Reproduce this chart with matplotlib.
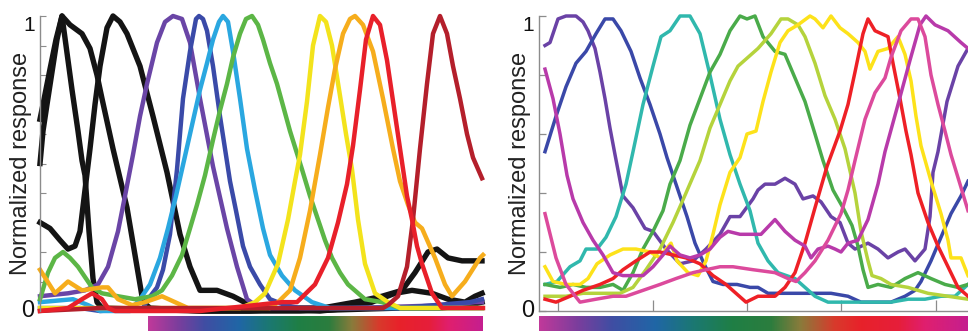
import numpy as np
import matplotlib
matplotlib.use("Agg")
from matplotlib import pyplot as plt
from matplotlib.colors import LinearSegmentedColormap

plt.rcParams['font.family'] = ['Liberation Sans', 'DejaVu Sans']

# ---------------- left panel: tuning curves (stimulus position a.u., normalized response)
k1_x = [0, 3, 10, 16, 22, 30, 42, 50, 57, 62, 73, 87, 97, 103, 110, 160, 210, 260, 282, 315, 342, 362, 375, 388, 397, 408, 422, 442]
k1_y = [0.65, 0.70, 0.82, 0.92, 1.00, 0.97, 0.94, 0.89, 0.80, 0.72, 0.55, 0.35, 0.15, 0.03, 0.01, 0.00, 0.00, 0.01, 0.01, 0.03, 0.05, 0.07, 0.13, 0.20, 0.21, 0.18, 0.17, 0.17]

k2_x = [0, 3, 7, 12, 17, 22, 26, 32, 38, 42, 45, 49, 53, 57, 62, 160, 260, 360, 400, 430, 442]
k2_y = [0.50, 0.61, 0.70, 0.81, 0.92, 1.00, 0.90, 0.75, 0.61, 0.51, 0.46, 0.27, 0.11, 0.03, 0.01, 0.00, 0.00, 0.01, 0.01, 0.02, 0.03]

k3_x = [0, 10, 20, 28, 35, 40, 45, 50, 55, 60, 67, 73, 80, 87, 100, 113, 127, 140, 150, 160, 177, 193, 210, 225, 280, 310, 332, 355, 372, 392, 408, 425, 435, 442]
k3_y = [0.30, 0.28, 0.24, 0.21, 0.22, 0.27, 0.41, 0.55, 0.70, 0.83, 0.96, 1.00, 0.98, 0.94, 0.83, 0.66, 0.47, 0.26, 0.15, 0.07, 0.07, 0.05, 0.02, 0.01, 0.00, 0.01, 0.03, 0.06, 0.07, 0.06, 0.04, 0.03, 0.05, 0.06]

pu_x = [0, 28, 45, 58, 68, 78, 85, 93, 100, 107, 117, 125, 133, 142, 150, 160, 173, 187, 197, 207, 215, 230, 310, 410, 435, 442]
pu_y = [0.05, 0.06, 0.07, 0.09, 0.15, 0.27, 0.39, 0.53, 0.66, 0.77, 0.91, 0.98, 1.00, 0.99, 0.91, 0.72, 0.49, 0.28, 0.15, 0.04, 0.02, 0.01, 0.01, 0.02, 0.03, 0.03]

bl_x = [0, 40, 60, 103, 108, 117, 123, 130, 137, 143, 150, 156, 159, 163, 167, 173, 180, 185, 190, 196, 203, 210, 220, 230, 245, 260, 360, 430, 442]
bl_y = [0.01, 0.01, 0.00, 0.01, 0.04, 0.08, 0.14, 0.26, 0.48, 0.72, 0.88, 0.99, 1.00, 0.99, 0.95, 0.83, 0.66, 0.55, 0.44, 0.34, 0.22, 0.15, 0.09, 0.04, 0.02, 0.01, 0.01, 0.03, 0.04]

lb_x = [0, 33, 48, 60, 90, 100, 110, 120, 128, 136, 144, 152, 160, 167, 173, 179, 183, 188, 193, 200, 207, 215, 223, 230, 242, 255, 272, 290, 360, 442]
lb_y = [0.03, 0.04, 0.02, 0.00, 0.00, 0.04, 0.09, 0.18, 0.28, 0.39, 0.51, 0.63, 0.75, 0.84, 0.92, 0.98, 1.00, 0.98, 0.88, 0.72, 0.55, 0.41, 0.28, 0.19, 0.12, 0.07, 0.03, 0.01, 0.01, 0.01]

gr_x = [0, 8, 15, 23, 30, 38, 52, 62, 78, 95, 112, 122, 132, 142, 150, 157, 165, 173, 180, 187, 193, 200, 206, 212, 218, 223, 230, 237, 250, 262, 270, 278, 285, 292, 300, 308, 325, 342, 360, 390, 442]
gr_y = [0.04, 0.13, 0.18, 0.20, 0.18, 0.15, 0.08, 0.06, 0.05, 0.04, 0.05, 0.07, 0.12, 0.19, 0.28, 0.36, 0.46, 0.58, 0.68, 0.77, 0.86, 0.94, 0.99, 1.00, 0.97, 0.92, 0.84, 0.77, 0.61, 0.48, 0.39, 0.31, 0.24, 0.18, 0.13, 0.09, 0.04, 0.03, 0.01, 0.01, 0.01]

ye_x = [0, 110, 200, 215, 225, 238, 248, 255, 260, 267, 273, 280, 286, 292, 300, 306, 312, 318, 325, 335, 348, 360, 442]
ye_y = [0.01, 0.01, 0.01, 0.03, 0.06, 0.16, 0.31, 0.44, 0.53, 0.71, 0.90, 1.00, 0.98, 0.90, 0.73, 0.60, 0.48, 0.31, 0.16, 0.06, 0.03, 0.01, 0.01]

or_x = [0, 15, 28, 42, 62, 68, 78, 92, 105, 122, 135, 148, 190, 230, 238, 250, 260, 270, 280, 288, 295, 303, 310, 315, 323, 333, 343, 353, 360, 368, 375, 382, 395, 405, 412, 425, 440, 443]
or_y = [0.14, 0.06, 0.10, 0.07, 0.08, 0.08, 0.04, 0.02, 0.03, 0.05, 0.03, 0.01, 0.01, 0.01, 0.03, 0.07, 0.18, 0.34, 0.53, 0.69, 0.82, 0.94, 0.99, 1.00, 0.97, 0.88, 0.72, 0.55, 0.44, 0.36, 0.30, 0.28, 0.18, 0.09, 0.05, 0.10, 0.18, 0.19]

rd_x = [0, 28, 42, 52, 62, 68, 75, 160, 215, 242, 257, 275, 288, 298, 307, 313, 320, 326, 333, 340, 347, 357, 367, 372, 377, 382, 392, 402, 443]
rd_y = [0.00, 0.01, 0.04, 0.06, 0.04, 0.01, 0.00, 0.00, 0.02, 0.03, 0.03, 0.09, 0.18, 0.30, 0.43, 0.56, 0.75, 0.92, 1.00, 0.97, 0.85, 0.62, 0.39, 0.31, 0.22, 0.16, 0.06, 0.01, 0.01]

dr_x = [0, 60, 160, 260, 343, 348, 358, 367, 373, 380, 387, 393, 400, 407, 413, 420, 427, 433, 442]
dr_y = [0.00, 0.01, 0.01, 0.01, 0.01, 0.02, 0.05, 0.15, 0.31, 0.55, 0.77, 0.94, 1.00, 0.94, 0.83, 0.72, 0.60, 0.52, 0.45]

# ---------------- right panel
r_ticks = [19, 114, 208, 302, 397]

rpu_x = [6, 11, 19, 27, 37, 44, 49, 56, 61, 66, 71, 76, 84, 94, 106, 114, 127, 141, 154, 167, 181, 191, 201, 214, 219, 226, 236, 246, 256, 264, 274, 282, 292, 301, 309, 316, 329, 339, 349, 359, 366, 376, 386, 391, 394, 399, 408, 419, 429]
rpu_y = [0.90, 0.91, 0.99, 1.00, 1.00, 0.98, 0.95, 0.89, 0.81, 0.72, 0.62, 0.53, 0.39, 0.35, 0.28, 0.27, 0.21, 0.16, 0.17, 0.21, 0.26, 0.32, 0.32, 0.38, 0.41, 0.43, 0.43, 0.45, 0.43, 0.38, 0.39, 0.37, 0.32, 0.30, 0.23, 0.21, 0.23, 0.21, 0.18, 0.20, 0.21, 0.17, 0.21, 0.32, 0.47, 0.54, 0.71, 0.83, 0.89]

rbl_x = [6, 17, 27, 37, 47, 57, 66, 74, 82, 92, 101, 111, 121, 128, 138, 148, 156, 165, 174, 184, 198, 211, 219, 229, 242, 259, 276, 292, 309, 322, 336, 352, 366, 376, 382, 392, 402, 412, 422, 429]
rbl_y = [0.54, 0.66, 0.76, 0.84, 0.88, 0.94, 0.99, 0.99, 0.95, 0.88, 0.79, 0.70, 0.60, 0.52, 0.42, 0.32, 0.23, 0.16, 0.10, 0.09, 0.09, 0.08, 0.08, 0.06, 0.06, 0.06, 0.06, 0.06, 0.05, 0.03, 0.03, 0.03, 0.05, 0.07, 0.10, 0.17, 0.25, 0.33, 0.39, 0.44]

rte_x = [6, 18, 31, 41, 47, 58, 67, 77, 87, 94, 104, 114, 122, 131, 141, 151, 161, 171, 181, 191, 201, 211, 219, 229, 239, 256, 266, 276, 289, 302, 319, 336, 352, 369, 386, 402, 416, 429]
rte_y = [0.09, 0.10, 0.15, 0.17, 0.21, 0.21, 0.25, 0.32, 0.43, 0.54, 0.70, 0.83, 0.93, 0.95, 1.00, 1.00, 0.94, 0.80, 0.65, 0.53, 0.43, 0.34, 0.23, 0.17, 0.13, 0.11, 0.08, 0.05, 0.03, 0.03, 0.03, 0.03, 0.03, 0.04, 0.04, 0.05, 0.05, 0.09]

rgr_x = [6, 21, 34, 47, 61, 74, 84, 94, 104, 114, 124, 131, 141, 151, 161, 171, 181, 191, 201, 208, 216, 224, 236, 246, 256, 266, 276, 284, 294, 304, 313, 319, 324, 329, 339, 352, 366, 379, 392, 406, 419, 429]
rgr_y = [0.09, 0.08, 0.09, 0.08, 0.08, 0.09, 0.07, 0.13, 0.21, 0.27, 0.34, 0.43, 0.51, 0.63, 0.72, 0.81, 0.87, 0.95, 1.00, 0.99, 1.00, 0.93, 0.88, 0.87, 0.79, 0.71, 0.60, 0.51, 0.41, 0.35, 0.29, 0.22, 0.14, 0.08, 0.09, 0.08, 0.11, 0.13, 0.11, 0.09, 0.08, 0.09]

rli_x = [6, 27, 44, 61, 81, 94, 107, 121, 134, 147, 161, 171, 181, 191, 199, 209, 219, 232, 242, 249, 259, 266, 276, 286, 296, 306, 316, 322, 329, 333, 342, 352, 369, 389, 409, 429]
rli_y = [0.05, 0.05, 0.06, 0.06, 0.06, 0.08, 0.14, 0.21, 0.30, 0.40, 0.51, 0.62, 0.70, 0.78, 0.83, 0.86, 0.89, 0.94, 0.99, 0.99, 0.97, 0.93, 0.84, 0.73, 0.65, 0.55, 0.40, 0.27, 0.17, 0.12, 0.11, 0.09, 0.08, 0.06, 0.05, 0.04]

rye_x = [6, 14, 27, 41, 49, 58, 71, 84, 97, 111, 121, 127, 132, 138, 149, 159, 167, 174, 181, 191, 201, 208, 217, 224, 232, 241, 249, 259, 271, 276, 284, 292, 301, 309, 319, 326, 331, 339, 349, 359, 366, 372, 377, 382, 392, 402, 409, 412, 422, 429]
rye_y = [0.15, 0.10, 0.09, 0.09, 0.11, 0.16, 0.19, 0.21, 0.21, 0.20, 0.18, 0.21, 0.23, 0.17, 0.13, 0.12, 0.17, 0.26, 0.36, 0.47, 0.52, 0.60, 0.61, 0.71, 0.81, 0.91, 0.95, 0.97, 1.00, 0.99, 0.96, 1.00, 0.96, 0.94, 0.91, 0.88, 0.82, 0.88, 0.89, 0.93, 0.87, 0.78, 0.66, 0.56, 0.44, 0.33, 0.24, 0.18, 0.18, 0.12]

rrd_x = [6, 17, 31, 44, 61, 74, 84, 97, 111, 121, 134, 147, 161, 174, 187, 197, 207, 219, 236, 246, 256, 266, 276, 288, 301, 309, 316, 324, 329, 336, 349, 354, 361, 367, 372, 379, 389, 399, 409, 419, 429]
rrd_y = [0.04, 0.03, 0.05, 0.07, 0.09, 0.11, 0.14, 0.17, 0.20, 0.20, 0.19, 0.18, 0.16, 0.12, 0.09, 0.06, 0.03, 0.05, 0.05, 0.08, 0.13, 0.23, 0.35, 0.49, 0.61, 0.70, 0.81, 0.94, 0.99, 0.95, 0.93, 0.84, 0.72, 0.61, 0.53, 0.40, 0.30, 0.22, 0.15, 0.08, 0.05]

rma_x = [6, 14, 21, 28, 34, 44, 54, 64, 74, 84, 94, 104, 114, 124, 131, 141, 151, 161, 171, 181, 189, 201, 214, 222, 236, 246, 256, 266, 272, 279, 289, 296, 302, 309, 319, 329, 339, 346, 359, 371, 381, 387, 396, 409, 422, 429]
rma_y = [0.82, 0.72, 0.60, 0.46, 0.38, 0.30, 0.24, 0.19, 0.13, 0.12, 0.12, 0.12, 0.15, 0.19, 0.22, 0.19, 0.18, 0.19, 0.21, 0.25, 0.27, 0.26, 0.26, 0.26, 0.31, 0.27, 0.24, 0.22, 0.18, 0.21, 0.22, 0.21, 0.20, 0.23, 0.24, 0.31, 0.43, 0.54, 0.70, 0.85, 0.97, 1.00, 0.97, 0.95, 0.91, 0.89]

rmb_x = [6, 17, 27, 41, 57, 74, 87, 104, 121, 137, 154, 167, 181, 194, 214, 236, 249, 257, 266, 276, 289, 302, 309, 316, 326, 336, 346, 352, 362, 372, 379, 386, 392, 399, 406, 412, 421, 429]
rmb_y = [0.33, 0.18, 0.09, 0.03, 0.04, 0.05, 0.05, 0.07, 0.09, 0.11, 0.13, 0.14, 0.15, 0.15, 0.14, 0.13, 0.11, 0.10, 0.13, 0.17, 0.24, 0.33, 0.41, 0.51, 0.65, 0.74, 0.79, 0.86, 0.95, 0.99, 0.99, 0.93, 0.80, 0.70, 0.61, 0.53, 0.43, 0.34]

left_curves = [
    (k1_x, k1_y, '#141414', 3.9),
    (k2_x, k2_y, '#141414', 3.9),
    (k3_x, k3_y, '#141414', 3.9),
    (pu_x, pu_y, '#6a45a6', 3.2),
    (bl_x, bl_y, '#3a4aa8', 3.2),
    (lb_x, lb_y, '#2aa7e0', 3.2),
    (gr_x, gr_y, '#5cb646', 3.2),
    (ye_x, ye_y, '#f3e31c', 3.2),
    (or_x, or_y, '#f6ad1c', 3.2),
    (dr_x, dr_y, '#b41f2b', 3.2),
    (rd_x, rd_y, '#e8202a', 3.2),
]

right_curves = [
    (rpu_x, rpu_y, '#6a42a6'),
    (rbl_x, rbl_y, '#3a48a8'),
    (rte_x, rte_y, '#30b8ad'),
    (rgr_x, rgr_y, '#4aab4a'),
    (rli_x, rli_y, '#b5d33c'),
    (rye_x, rye_y, '#fde21a'),
    (rrd_x, rrd_y, '#ee2026'),
    (rma_x, rma_y, '#b83aaa'),
    (rmb_x, rmb_y, '#dc4a9c'),
]

bar_colors = ['#c0399a', '#7a3e9d', '#3f4ea3', '#2066a6', '#1b7872', '#1f7f45',
              '#2b7d3e', '#8a7b3b', '#d83a2c', '#e8222a', '#e61e3a', '#e01f6e', '#c51f8f']
bar_stops = [0.0, 0.09, 0.17, 0.27, 0.36, 0.45, 0.54, 0.61, 0.69, 0.75, 0.84, 0.90, 1.0]

W, H = 968, 331
fig = plt.figure(figsize=(W / 100, H / 100), dpi=100)

ax_bottom = 20 / H
ax_h = (311 - 16) / H
axL = fig.add_axes([40 / W, ax_bottom, (483 - 40) / W, ax_h])
axR = fig.add_axes([539 / W, ax_bottom, (968 - 539) / W, ax_h])

spine_c = '#8c8c8c'
for ax in (axL, axR):
    ax.set_ylim(0, 1)
    for s in ('top', 'right'):
        ax.spines[s].set_visible(False)
    ax.spines['left'].set_color(spine_c)
    ax.spines['left'].set_linewidth(1.0)
    ax.set_ylabel('Normalized response', fontsize=17, color='#222222', labelpad=2)
    ax.text(-0.012, 1.0, '1', transform=ax.transAxes, ha='right', va='top', fontsize=15, color='#111111')
    ax.text(-0.012, 0.0, '0', transform=ax.transAxes, ha='right', va='center', fontsize=17, color='#111111')

for x, y, c, lw in left_curves:
    axL.plot(x, y, color=c, lw=lw, clip_on=False, solid_joinstyle='round')
axL.set_xlim(0, 443)
axL.spines['bottom'].set_visible(False)
axL.set_xticks([])
axL.set_yticks(np.arange(0, 1.01, 0.1))
axL.set_yticklabels([])
axL.tick_params(axis='y', direction='in', length=4, width=0.8, color=spine_c)

for x, y, c in right_curves:
    axR.plot(x, y, color=c, lw=2.5, clip_on=False, solid_joinstyle='round')
axR.set_xlim(0, 429)
axR.spines['bottom'].set_color(spine_c)
axR.spines['bottom'].set_linewidth(1.0)
axR.set_xticks(r_ticks)
axR.set_xticklabels([])
axR.tick_params(axis='x', direction='in', length=8, width=0.9, color=spine_c)
axR.set_yticks(np.arange(0, 1.01, 0.2))
axR.set_yticklabels([])
axR.tick_params(axis='y', direction='in', length=5, width=0.9, color=spine_c)

cmap = LinearSegmentedColormap.from_list('hue', list(zip(bar_stops, bar_colors)))
grad = np.linspace(0, 1, 512)[None, :]
for x0, x1 in ((148, 483), (539, 968)):
    cax = fig.add_axes([x0 / W, 0, (x1 - x0) / W, 15 / H])
    cax.imshow(grad, aspect='auto', cmap=cmap)
    cax.set_axis_off()

fig.savefig('out.png', dpi=100)
